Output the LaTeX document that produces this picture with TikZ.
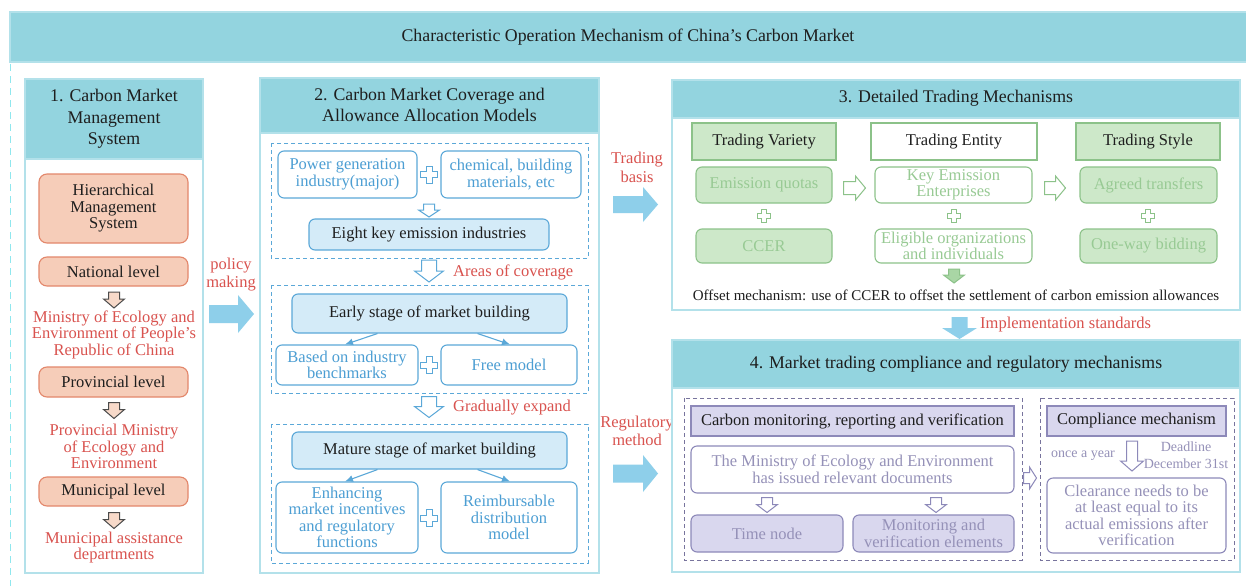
\documentclass[tikz,border=0pt]{standalone}
\usepackage{fontspec}
\setmainfont{Liberation Serif}
\usetikzlibrary{arrows.meta}

\definecolor{hdr}{HTML}{93D4DF}
\definecolor{hdrline}{HTML}{B3E1EA}
\definecolor{flow}{HTML}{8ECFEA}
\definecolor{redtxt}{HTML}{D9534F}
\definecolor{salfill}{HTML}{F6CDB9}
\definecolor{salline}{HTML}{E3876B}
\definecolor{salarrow}{HTML}{F7D9C9}
\definecolor{bluline}{HTML}{5BA8D8}
\definecolor{blutxt}{HTML}{4C9ED3}
\definecolor{blufill}{HTML}{D4EBF8}
\definecolor{grnfill}{HTML}{CDE8C9}
\definecolor{grnline}{HTML}{8CC289}
\definecolor{grntxt}{HTML}{98CA94}
\definecolor{grnarrow}{HTML}{A9D6A5}
\definecolor{purfill}{HTML}{D9D7EE}
\definecolor{purline}{HTML}{8D89B9}
\definecolor{purtxt}{HTML}{9591B8}
\definecolor{ink}{HTML}{1E1E1E}

\newcommand{\bodyfont}{\fontsize{16.5}{16.5}\selectfont}
\newcommand{\headfont}{\fontsize{17.8}{21.5}\selectfont}
\newcommand{\smallfont}{\fontsize{14}{16.5}\selectfont}

\tikzset{
  panelframe/.style={draw=hdrline, line width=2pt, fill=white},
  hdrband/.style={draw=hdrline, line width=2pt, fill=hdr},
  headtext/.style={text=ink, font=\headfont, align=center},
  grpframe/.style={line width=0.9pt, dash pattern=on 4pt off 3pt},
  box/.style={inner sep=0pt, align=center, font=\bodyfont, line width=1.1pt},
  salbox/.style={box, rounded corners=8pt, fill=salfill, draw=salline, text=ink, minimum width=149pt},
  wbox/.style={box, rounded corners=6pt, fill=white, draw=bluline, text=blutxt},
  bbox/.style={box, rounded corners=6pt, fill=blufill, draw=bluline, text=ink},
  ghead/.style={box, fill=grnfill, draw=grnline, text=ink, minimum height=37pt},
  gbox/.style={box, rounded corners=6pt, fill=grnfill, draw=grnline, text=grntxt},
  gwbox/.style={box, rounded corners=6pt, fill=white, draw=grnline, text=grntxt},
  phead/.style={box, fill=purfill, draw=purline, text=ink, minimum height=30pt},
  pbox/.style={box, rounded corners=6pt, fill=purfill, draw=purline, text=purtxt},
  pwbox/.style={box, rounded corners=6pt, fill=white, draw=purline, text=purtxt},
  redlbl/.style={text=redtxt, font=\bodyfont, align=center, inner sep=0pt},
  thinarrow/.style={draw=bluline, line width=1.1pt, -{Latex[length=8pt,width=7pt]}},
  % block arrows: {length}{head width}{shaft width}{head length}
  pics/blockdown/.style n args={4}{code={
    \path[pic actions] (-#3/2,-#1/2) -- (#3/2,-#1/2) -- (#3/2,#1/2-#4) -- (#2/2,#1/2-#4)
      -- (0,#1/2) -- (-#2/2,#1/2-#4) -- (-#3/2,#1/2-#4) -- cycle;}},
  pics/blockright/.style n args={4}{code={
    \path[pic actions] (-#1/2,-#3/2) -- (#1/2-#4,-#3/2) -- (#1/2-#4,-#2/2) -- (#1/2,0)
      -- (#1/2-#4,#2/2) -- (#1/2-#4,#3/2) -- (-#1/2,#3/2) -- cycle;}},
  pics/plussign/.style={code={
    \path[pic actions] (-3,-8.5)--(3,-8.5)--(3,-3)--(8.5,-3)--(8.5,3)--(3,3)
      --(3,8.5)--(-3,8.5)--(-3,3)--(-8.5,3)--(-8.5,-3)--(-3,-3)--cycle;}},
}

\begin{document}
\begin{tikzpicture}[x=1pt,y=-1pt]
\useasboundingbox (0,0) rectangle (1246,586);
\fill[white] (0,0) rectangle (1246,586);

% title band and left dashed rule
\draw[hdrband] (10,12) rectangle (1247,62);
\node[headtext] (title) at (628,37) {Characteristic Operation Mechanism of China's Carbon Market};
\draw[hdrline!80!cyan, line width=1pt, dash pattern=on 7pt off 5pt] (10,64) -- (10,586);

% ---------------- panel 1 ----------------
\draw[panelframe] (25,79) rectangle (203,573);
\draw[hdrband] (25,79) rectangle (203,159);
\node[headtext] (p1title) at (114,119) {1. Carbon Market\\Management\\System};

\node[salbox, minimum height=69pt] (hms) at (113.5,208.5) {Hierarchical\\Management\\System};
\node[salbox, minimum height=29pt] (nat) at (113.5,271.5) {National level};
\pic[fill=salarrow, draw=ink!80, line width=1pt] at (114,300) {blockdown={16}{21}{11}{9}};
\node[redlbl] (mee) at (114,334.5) {Ministry of Ecology and\\Environment of People's\\Republic of China};
\node[salbox, minimum height=30pt] (prov) at (113.5,382) {Provincial level};
\pic[fill=salarrow, draw=ink!80, line width=1pt] at (114,410.5) {blockdown={16}{21}{11}{9}};
\node[redlbl] (pmee) at (114,446.5) {Provincial Ministry\\of Ecology and\\Environment};
\node[salbox, minimum height=29pt] (muni) at (113.5,491.5) {Municipal level};
\pic[fill=salarrow, draw=ink!80, line width=1pt] at (114,520.5) {blockdown={16}{21}{11}{9}};
\node[redlbl] (mad) at (114,547.5) {Municipal assistance\\departments};

% policy making
\node[redlbl, font=\fontsize{16.5}{17.5}\selectfont] (policy) at (231,274.5) {policy\\making};
\pic[fill=flow] at (231.5,314) {blockright={45}{38}{18}{16}};

% ---------------- panel 2 ----------------
\draw[panelframe] (260,78) rectangle (599,573);
\draw[hdrband] (260,78) rectangle (599,133);
\node[headtext] (p2title) at (429.5,105) {2. Carbon Market Coverage and\\Allowance Allocation Models};

\draw[grpframe, draw=bluline] (271,143) rectangle (588,258);
\draw[grpframe, draw=bluline] (271,285) rectangle (588,393);
\draw[grpframe, draw=bluline] (271,424) rectangle (588,563);

\node[wbox, minimum width=139pt, minimum height=47pt] (pg) at (347.5,174.5) {Power generation\\industry(major)};
\node[wbox, minimum width=140pt, minimum height=47pt] (chem) at (511,174.5) {chemical, building\\materials, etc};
\pic[draw=bluline, fill=white, line width=1pt] at (429,174.5) {plussign};
\pic[draw=bluline, fill=white, line width=1pt] at (429,210.5) {blockdown={13}{21}{11}{7}};
\node[bbox, minimum width=240pt, minimum height=31pt] (eight) at (429,234.5) {Eight key emission industries};

\pic[draw=bluline, fill=white, line width=1pt] at (429,271) {blockdown={22}{29}{15}{11}};
\node[redlbl, anchor=west] (cover) at (453,272) {Areas of coverage};

\node[bbox, minimum width=275pt, minimum height=39pt] (early) at (429.5,313.5) {Early stage of market building};
\node[wbox, minimum width=142pt, minimum height=40pt] (bench) at (347,365) {Based on industry\\benchmarks};
\node[wbox, minimum width=136pt, minimum height=40pt] (free) at (509,365) {Free model};
\pic[draw=bluline, fill=white, line width=1pt] at (429,365) {plussign};
\draw[thinarrow] ([xshift=-52pt]early.south) -- ([xshift=-2pt]bench.north);
\draw[thinarrow] ([xshift=48pt]early.south) -- ([xshift=1pt]free.north);

\pic[draw=bluline, fill=white, line width=1pt] at (429,407) {blockdown={21}{29}{15}{11}};
\node[redlbl, anchor=west] (expand) at (453,408) {Gradually expand};

\node[bbox, minimum width=275pt, minimum height=37pt] (mature) at (429.5,450.5) {Mature stage of market building};
\node[wbox, minimum width=142pt, minimum height=71pt] (enh) at (347,517.5) {Enhancing\\market incentives\\and regulatory\\functions};
\node[wbox, minimum width=136pt, minimum height=71pt] (reimb) at (509,517.5) {Reimbursable\\distribution\\model};
\pic[draw=bluline, fill=white, line width=1pt] at (429,518) {plussign};
\draw[thinarrow] ([xshift=-52pt]mature.south) -- ([xshift=-2pt]enh.north);
\draw[thinarrow] ([xshift=48pt]mature.south) -- ([xshift=1pt]reimb.north);

% trading basis / regulatory method
\node[redlbl, font=\fontsize{16.5}{18.5}\selectfont] (basis) at (637,167.5) {Trading\\basis};
\pic[fill=flow] at (635.5,204.5) {blockright={45}{35}{17}{15}};
\node[redlbl, font=\fontsize{16.5}{18.5}\selectfont] (regm) at (637,431) {Regulatory\\method};
\pic[fill=flow] at (635.5,473.5) {blockright={45}{37}{18}{15}};

% ---------------- panel 3 ----------------
\draw[panelframe] (672,80) rectangle (1240,310);
\draw[hdrband] (672,80) rectangle (1240,118);
\node[headtext] (p3title) at (956,98) {3. Detailed Trading Mechanisms};

\node[ghead, minimum width=144pt] (tv) at (764,141.5) {Trading Variety};
\node[ghead, fill=white, minimum width=166pt] (te) at (954,141.5) {Trading Entity};
\node[ghead, minimum width=144pt] (ts) at (1148,141.5) {Trading Style};

\node[gbox, minimum width=136pt, minimum height=36pt] (eq) at (764,185) {Emission quotas};
\node[gwbox, minimum width=157pt, minimum height=36pt] (kee) at (953.5,185) {Key Emission\\Enterprises};
\node[gbox, minimum width=137pt, minimum height=36pt] (agr) at (1148.5,185) {Agreed transfers};

\pic[fill=white, draw=grnline, line width=1pt] at (854.5,188) {blockright={22}{24}{13}{10}};
\pic[fill=white, draw=grnline, line width=1pt] at (1055,188) {blockright={21}{24}{13}{10}};

\pic[draw=grnline, fill=white, line width=1pt, scale=0.8] at (764,216) {plussign};
\pic[draw=grnline, fill=white, line width=1pt, scale=0.8] at (954,216) {plussign};
\pic[draw=grnline, fill=white, line width=1pt, scale=0.8] at (1148,216) {plussign};

\node[gbox, minimum width=136pt, minimum height=34pt] (ccer) at (764,246) {CCER};
\node[gwbox, minimum width=157pt, minimum height=34pt] (elig) at (953.5,246) {Eligible organizations\\and individuals};
\node[gbox, minimum width=137pt, minimum height=34pt] (owb) at (1148.5,246) {One-way bidding};

\pic[fill=grnarrow, draw=grnline, line width=1pt] at (954,276) {blockdown={14}{21}{11}{8}};
\node[text=ink, font=\fontsize{15}{15}\selectfont, inner sep=0pt] (offset) at (956,295)
  {Offset mechanism: use of CCER to offset the settlement of carbon emission allowances};

% implementation standards
\pic[fill=flow] at (959.5,328) {blockdown={22}{35}{16}{11}};
\node[redlbl, anchor=west] (impl) at (980,325) {Implementation standards};

% ---------------- panel 4 ----------------
\draw[panelframe] (672,340) rectangle (1240,572);
\draw[hdrband] (672,340) rectangle (1240,388);
\node[headtext] (p4title) at (956,364) {4. Market trading compliance and regulatory mechanisms};

\draw[grpframe, draw=purline!85!black] (684,398) rectangle (1022,560);
\draw[grpframe, draw=purline!85!black] (1040,398) rectangle (1234,560);

\node[phead, minimum width=323pt] (mrv) at (852.5,421) {Carbon monitoring, reporting and verification};
\node[pwbox, minimum width=323pt, minimum height=47pt] (docs) at (852.5,469.5) {The Ministry of Ecology and Environment\\has issued relevant documents};
\pic[fill=white, draw=purline, line width=1pt] at (767,505) {blockdown={15}{21}{11}{8}};
\pic[fill=white, draw=purline, line width=1pt] at (936,505) {blockdown={15}{21}{11}{8}};
\node[pbox, minimum width=152pt, minimum height=37pt] (tnode) at (767,533.5) {Time node};
\node[pbox, minimum width=161pt, minimum height=37pt] (melem) at (933.5,533.5) {Monitoring and\\verification elements};

\pic[fill=white, draw=purline, line width=1pt] at (1030,478) {blockright={13}{22}{11}{7}};

\node[phead, minimum width=179pt] (comp) at (1136.5,421) {Compliance mechanism};
\node[text=purtxt, font=\smallfont, inner sep=0pt] (yearly) at (1083,456) {once a year};
\pic[fill=white, draw=purline, line width=1pt] at (1132,456) {blockdown={30}{23}{11}{10}};
\node[text=purtxt, font=\smallfont, align=center, inner sep=0pt] (deadline) at (1186,455) {Deadline\\December 31st};
\node[pwbox, minimum width=179pt, minimum height=75pt] (clear) at (1136.5,515.5) {Clearance needs to be\\at least equal to its\\actual emissions after\\verification};
\end{tikzpicture}
\end{document}
